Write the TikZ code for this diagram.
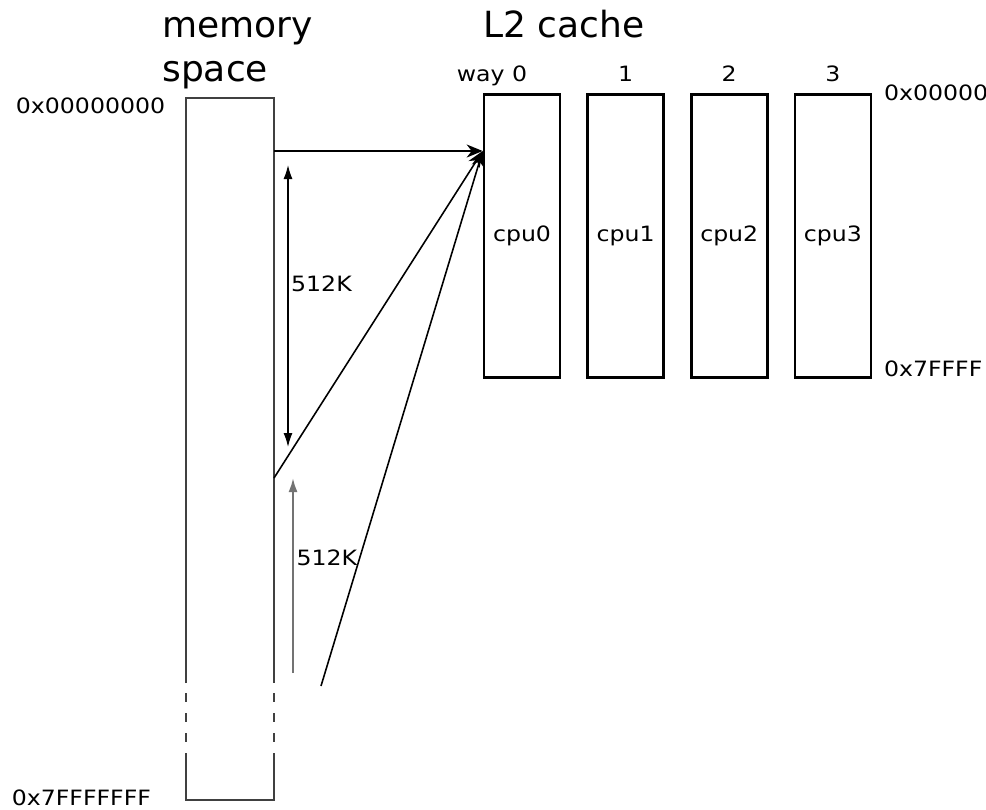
\documentclass[tikz,border=0pt]{standalone}
\usepackage{fontspec}
\setmainfont{DejaVu Sans}
\newfontfamily\widefont[FakeStretch=1.12]{DejaVu Sans}
\usetikzlibrary{positioning,calc,arrows.meta}
\tikzset{x=0.02cm,y=-0.02cm,
el/.style={font=\widefont\fontsize{12}{14}\selectfont,inner sep=0.5mm},
big/.style={font=\fontsize{20.5}{24.5}\selectfont,inner sep=0mm,align=left},
way/.style={rectangle,draw,line width=1.5pt,minimum width=1.52cm,
  minimum height=5.66cm,inner sep=0mm,font=\widefont\fontsize{12}{14}\selectfont},
mem/.style={line width=1.1pt,draw=black!75},
cut/.style={mem,dash pattern=on 0.18cm off 0.22cm},
hit/.style={-{Stealth[length=3.2mm,width=2.6mm,inset=1mm]},line width=0.9pt},
dim/.style={line width=0.8pt,>={Latex[length=2.8mm,width=1.8mm]}},
dimg/.style={dim,line width=1.2pt,draw=black!55},
}
\begin{document}
\begin{tikzpicture}
	\useasboundingbox (0,0) rectangle (986,809);

	% titles
	\node[big,anchor=base west] (memlbl) at (162,81) {memory\\space};
	\node[big,anchor=base west] (cachelbl) at (483,37) {L2 cache};

	% memory space
	\coordinate (mtl) at (186,98);
	\coordinate (mtr) at (274,98);
	\coordinate (mbl) at (186,800);
	\coordinate (mbr) at (274,800);
	\draw[mem] (186,683) -- (mtl) -- (mtr) -- (274,683);
	\draw[cut] (186,693) -- (186,745);
	\draw[cut] (274,693) -- (274,745);
	\draw[mem] (186,753) -- (mbl) -- (mbr) -- (274,753);
	\node[el,anchor=east] (addrtop) at (168,106) {0x00000000};
	\node[el,anchor=west] (addrbot) at (9,798) {0x7FFFFFFF};

	% cache ways
	\node[way] (w0) at (522,236) {cpu0};
	\node[way,right=0.5cm of w0] (w1) {cpu1};
	\node[way,right=0.5cm of w1] (w2) {cpu2};
	\node[way,right=0.5cm of w2] (w3) {cpu3};
	\node[el,anchor=base east] (n0) at ($(w0.north)+(8,-12)$) {way 0};
	\node[el,anchor=base] (n1) at ($(w1.north)+(0,-12)$) {1};
	\node[el,anchor=base] (n2) at ($(w2.north)+(0,-12)$) {2};
	\node[el,anchor=base] (n3) at ($(w3.north)+(0,-12)$) {3};
	\node[el,anchor=west] (ctop) at ($(w3.north east)+(9,0)$) {0x00000};
	\node[el,anchor=west] (cbot) at ($(w3.south east)+(9,-10)$) {0x7FFFF};

	% mapping
	\coordinate (src0) at (274,151);
	\coordinate (src1) at (274,478);
	\coordinate (src2) at (321,686);
	\coordinate (dst) at (w0.west |- src0);
	\coordinate (d0a) at (288,165);
	\coordinate (d0b) at (288,447);
	\coordinate (d1a) at (293,673);
	\coordinate (d1b) at (293,478);

	\path
	(src0) edge[hit] (dst)
	(src1) edge[hit] (dst)
	(src2) edge[hit] (dst)
	(d0a) edge[dim,<->] node[el,right,pos=0.42] {512K} (d0b)
	(d1a) edge[dimg,->] node[el,right,pos=0.59] {512K} (d1b)
	;
\end{tikzpicture}
\end{document}
